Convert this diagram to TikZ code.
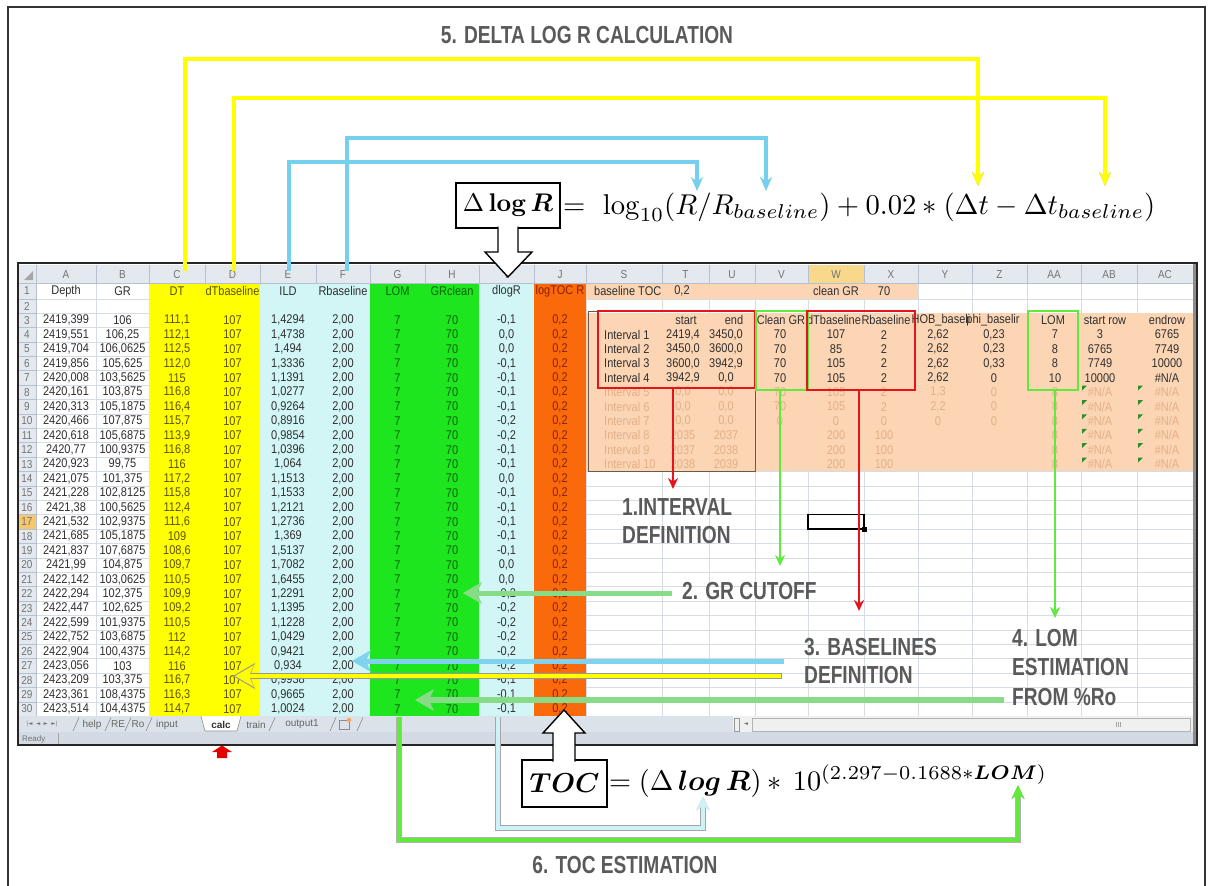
\documentclass[tikz,border=0pt]{standalone}
\usepackage[no-math]{fontspec}
\usepackage{amsmath,bm,graphicx}
\newfontfamily\xls{Liberation Sans}
\newfontfamily\djv{DejaVu Sans}
\usetikzlibrary{arrows.meta}
\definecolor{cyel}{HTML}{FFFF00}
\definecolor{cblu}{HTML}{D2F6F6}
\definecolor{cgrn}{HTML}{1EE61E}
\definecolor{corg}{HTML}{FA6A0A}
\definecolor{cpch}{HTML}{FCD5B4}
\definecolor{cgrid}{HTML}{D6DCE5}
\definecolor{chdr}{HTML}{E4E9EF}
\definecolor{chdrl}{HTML}{B6C0CE}
\definecolor{txt}{HTML}{303030}
\definecolor{tyel}{HTML}{5E5200}
\definecolor{tgrn}{HTML}{0A620A}
\definecolor{torg}{HTML}{8A2000}
\definecolor{tfad}{HTML}{E2B088}
\definecolor{lblc}{HTML}{5A5A5A}
\definecolor{sky}{HTML}{74D0EE}
\definecolor{pale}{HTML}{CDF3F8}
\definecolor{lgrn}{HTML}{5FEA3C}
\definecolor{hgrn}{HTML}{88DC88}
\definecolor{hsky}{HTML}{7FD3EF}
\definecolor{rd}{HTML}{E5141B}
\definecolor{tabbg}{HTML}{DCE2EA}
\definecolor{stbg}{HTML}{D3DAE4}
\definecolor{whl}{HTML}{F8D98C}
\definecolor{rhl}{HTML}{F7C76E}
\definecolor{sbrd}{HTML}{6B5A4A}
\definecolor{errg}{HTML}{2E8B2E}

\newcommand{\cx}[1]{\scalebox{1}[1.15]{#1}}
\newcommand{\sx}[1]{\scalebox{0.87}[1.12]{#1}}
\def\tcol{txt}

\tikzset{
  cl/.style={font=\xls\fontsize{11}{11}\selectfont, inner sep=0pt, text=txt},
  hd/.style={font=\xls\fontsize{10}{10}\selectfont, inner sep=0pt, text=black!55},
  lbl/.style={font=\xls\bfseries\fontsize{22}{22}\selectfont, inner sep=0pt, text=lblc},
  yconn/.style={draw=cyel, line width=3.2pt, preaction={draw=black!35, line width=4.6pt}},
  bconn/.style={draw=sky, line width=3.6pt},
  stp/.style={line width=5pt},
  vred/.style={draw=rd, line width=2.4pt, -{Stealth[length=11pt,width=10pt]}},
  vgrn/.style={draw=lgrn, line width=2.4pt, -{Stealth[length=11pt,width=10pt]}},
  rbox/.style={draw=rd, line width=2.6pt, inner sep=0pt, outer sep=0pt},
  gbox/.style={draw=lgrn, line width=2.6pt, inner sep=0pt, outer sep=0pt},
  fbox/.style={draw=black, line width=1.3pt, fill=white, inner sep=0pt, outer sep=0pt},
  hollow/.style={draw=black, line width=1.4pt, fill=white, line join=miter},
}
% left-pointing head at a named coordinate
\newcommand{\lhead}[2]{\fill[#1] (#2) -- ++(19,-11) -- ++(-5,11) -- ++(5,11) -- cycle;}

\newcommand{\datarow}[6]{%
  \pgfmathsetmacro{\yc}{320.2+(#1-3)*14.4}%
  \node[hd] (rn#1) at (27,\yc) {\cx{#1}};
  \node[cl] (a#1) at (66,\yc) {\cx{#2}};
  \node[cl] (b#1) at (122.5,\yc) {\cx{#3}};
  \node[cl,text=tyel] (c#1) at (177,\yc) {\cx{#4}};
  \node[cl,text=tyel] (d#1) at (232.5,\yc) {\cx{107}};
  \node[cl] (e#1) at (288,\yc) {\cx{#5}};
  \node[cl] (f#1) at (343,\yc) {\cx{2,00}};
  \node[cl,text=tgrn] (g#1) at (397.5,\yc) {\cx{7}};
  \node[cl,text=tgrn] (h#1) at (452,\yc) {\cx{70}};
  \node[cl] (i#1) at (506.5,\yc) {\cx{#6}};
  \node[cl,text=torg] (j#1) at (560,\yc) {\cx{0,2}};
}
\newcommand{\trA}[7]{%
  \pgfmathsetmacro{\yc}{320.2+(#1-3)*14.4}%
  \node[cl,text=\tcol,anchor=west] (s#1) at (604,\yc) {\cx{#2}};
  \node[cl,text=\tcol] (t#1) at (683,\yc) {\cx{#3}};
  \node[cl,text=\tcol] (u#1) at (726,\yc) {\cx{#4}};
  \node[cl,text=\tcol] (v#1) at (780,\yc) {\cx{#5}};
  \node[cl,text=\tcol] (w#1) at (836,\yc) {\cx{#6}};
  \node[cl,text=\tcol] (x#1) at (884,\yc) {\cx{#7}};
}
\newcommand{\trB}[6]{%
  \pgfmathsetmacro{\yc}{320.2+(#1-3)*14.4}%
  \node[cl,text=\tcol] (y#1) at (938,\yc) {\cx{#2}};
  \node[cl,text=\tcol] (z#1) at (994,\yc) {\cx{#3}};
  \node[cl,text=\tcol] (aa#1) at (1055,\yc) {\cx{#4}};
  \node[cl,text=\tcol] (ab#1) at (1100,\yc) {\cx{#5}};
  \node[cl,text=\tcol] (ac#1) at (1167,\yc) {\cx{#6}};
}

\begin{document}
\begin{tikzpicture}[x=1pt,y=-1pt]
\useasboundingbox (0,0) rectangle (1208,886);
\fill[white] (0,0) rectangle (1208,886);
\draw[black!80, line width=1.8pt] (8,892) -- (8,7) -- (1205,7) -- (1205,892);

% ---------- spreadsheet ----------
\foreach \k in {0,...,28} \draw[cgrid, line width=0.6pt] (36,{313+\k*14.4}) -- (1193,{313+\k*14.4});
\draw[cgrid, line width=0.6pt] (36,299) -- (1193,299);
\foreach \x in {96,149,205,260,316,370,425,479,534,586,662,709,755,808,864,918,972,1027,1081,1137}
  \draw[cgrid, line width=0.6pt] (\x,283) -- (\x,716.2);
\fill[cyel] (149,283) rectangle (260,716.2);
\fill[cblu] (260,283) rectangle (370,716.2);
\fill[cgrn] (370,283) rectangle (479,716.2);
\fill[cblu] (479,283) rectangle (534,716.2);
\fill[corg] (534,283) rectangle (586,716.2);
\fill[cpch] (586,283) rectangle (918,299);
\fill[cpch] (586,313) rectangle (1193,471.4);
\fill[chdr] (18,265) rectangle (1193,283);
\fill[chdr] (18,283) rectangle (36,716.2);
\fill[whl] (808,265) rectangle (864,283);
\fill[rhl] (18,514.6) rectangle (36,529);
\foreach \x in {36,96,149,205,260,316,370,425,479,534,586,662,709,755,808,864,918,972,1027,1081,1137}
  \draw[chdrl, line width=0.6pt] (\x,265) -- (\x,283);
\draw[chdrl, line width=0.6pt] (18,283) -- (1193,283);
\draw[chdrl, line width=0.6pt] (18,299) -- (36,299);
\foreach \k in {0,...,28} \draw[chdrl, line width=0.6pt] (18,{313+\k*14.4}) -- (36,{313+\k*14.4});
\draw[chdrl, line width=0.6pt] (36,265) -- (36,716.2);
\fill[black!35] (33,280) -- (33,271) -- (24,280) -- cycle;
\foreach \n/\x in {A/66,B/122.5,C/177,D/232.5,E/288,F/343,G/397.5,H/452,I/506.5,J/560,S/624,T/685.5,U/732,V/781.5,W/836,X/891,Y/945,Z/999.5,AA/1054,AB/1109,AC/1165}
  \node[hd] (col\n) at (\x,274.5) {\cx{\n}};
\node[hd] (rn1) at (27,291) {\cx{1}};
\node[hd] (rn2) at (27,306) {\cx{2}};

\node[cl] (a1) at (66,291) {\cx{Depth}};
\node[cl] (b1) at (122.5,291) {\cx{GR}};
\node[cl,text=tyel] (c1) at (177,291) {\cx{DT}};
\node[cl,text=tyel] (d1) at (232.5,291) {\cx{dTbaseline}};
\node[cl] (e1) at (288,291) {\cx{ILD}};
\node[cl] (f1) at (343,291) {\cx{Rbaseline}};
\node[cl,text=tgrn] (g1) at (397.5,291) {\cx{LOM}};
\node[cl,text=tgrn] (h1) at (452,291) {\cx{GRclean}};
\node[cl] (i1) at (506.5,291) {\cx{dlogR}};
\node[cl,text=torg] (j1) at (560,291) {\cx{logTOC R}};
\node[cl,anchor=west] (s1) at (594,291) {\cx{baseline TOC}};
\node[cl] (t1) at (682,291) {\cx{0,2}};
\node[cl] (w1) at (836,291) {\cx{clean GR}};
\node[cl] (x1) at (884,291) {\cx{70}};

\datarow{3}{2419,399}{106}{111,1}{1,4294}{-0,1}
\datarow{4}{2419,551}{106,25}{112,1}{1,4738}{0,0}
\datarow{5}{2419,704}{106,0625}{112,5}{1,494}{0,0}
\datarow{6}{2419,856}{105,625}{112,0}{1,3336}{-0,1}
\datarow{7}{2420,008}{103,5625}{115}{1,1391}{-0,1}
\datarow{8}{2420,161}{103,875}{116,8}{1,0277}{-0,1}
\datarow{9}{2420,313}{105,1875}{116,4}{0,9264}{-0,1}
\datarow{10}{2420,466}{107,875}{115,7}{0,8916}{-0,2}
\datarow{11}{2420,618}{105,6875}{113,9}{0,9854}{-0,2}
\datarow{12}{2420,77}{100,9375}{116,8}{1,0396}{-0,1}
\datarow{13}{2420,923}{99,75}{116}{1,064}{-0,1}
\datarow{14}{2421,075}{101,375}{117,2}{1,1513}{0,0}
\datarow{15}{2421,228}{102,8125}{115,8}{1,1533}{-0,1}
\datarow{16}{2421,38}{100,5625}{112,4}{1,2121}{-0,1}
\datarow{17}{2421,532}{102,9375}{111,6}{1,2736}{-0,1}
\datarow{18}{2421,685}{105,1875}{109}{1,369}{-0,1}
\datarow{19}{2421,837}{107,6875}{108,6}{1,5137}{-0,1}
\datarow{20}{2421,99}{104,875}{109,7}{1,7082}{0,0}
\datarow{21}{2422,142}{103,0625}{110,5}{1,6455}{0,0}
\datarow{22}{2422,294}{102,375}{109,9}{1,2291}{-0,2}
\datarow{23}{2422,447}{102,625}{109,2}{1,1395}{-0,2}
\datarow{24}{2422,599}{101,9375}{110,5}{1,1228}{-0,2}
\datarow{25}{2422,752}{103,6875}{112}{1,0429}{-0,2}
\datarow{26}{2422,904}{100,4375}{114,2}{0,9421}{-0,2}
\datarow{27}{2423,056}{103}{116}{0,934}{-0,2}
\datarow{28}{2423,209}{103,375}{116,7}{0,9938}{-0,1}
\datarow{29}{2423,361}{108,4375}{116,3}{0,9665}{-0,1}
\datarow{30}{2423,514}{104,4375}{114,7}{1,0024}{-0,1}

\node[cl] (t3) at (686,320.2) {\cx{start}};
\node[cl] (u3) at (734,320.2) {\cx{end}};
\node[cl] (v3) at (781,320.2) {\cx{Clean GR}};
\node[cl] (w3) at (834,320.2) {\cx{dTbaseline}};
\node[cl] (x3) at (886,320.2) {\cx{Rbaseline}};
\node[cl] (y3) at (941,320.2) {\cx{HOB\_baseli}};
\node[cl] (z3) at (993,320.2) {\cx{phi\_baselir}};
\node[cl] (aa3) at (1053,320.2) {\cx{LOM}};
\node[cl] (ab3) at (1105,320.2) {\cx{start row}};
\node[cl] (ac3) at (1167,320.2) {\cx{endrow}};
\trA{4}{Interval 1}{2419,4}{3450,0}{70}{107}{2}
\trB{4}{2,62}{0,23}{7}{3}{6765}
\trA{5}{Interval 2}{3450,0}{3600,0}{70}{85}{2}
\trB{5}{2,62}{0,23}{8}{6765}{7749}
\trA{6}{Interval 3}{3600,0}{3942,9}{70}{105}{2}
\trB{6}{2,62}{0,33}{8}{7749}{10000}
\trA{7}{Interval 4}{3942,9}{0,0}{70}{105}{2}
\trB{7}{2,62}{0}{10}{10000}{\#N/A}
\def\tcol{tfad}
\trA{8}{Interval 5}{0,0}{0,0}{70}{105}{2}
\trB{8}{1,3}{0}{8}{\#N/A}{\#N/A}
\trA{9}{Interval 6}{0,0}{0,0}{70}{105}{2}
\trB{9}{2,2}{0}{8}{\#N/A}{\#N/A}
\trA{10}{Interval 7}{0,0}{0,0}{0}{0}{0}
\trB{10}{0}{0}{8}{\#N/A}{\#N/A}
\trA{11}{Interval 8}{2035}{2037}{}{200}{100}
\trB{11}{}{}{8}{\#N/A}{\#N/A}
\trA{12}{Interval 9}{2037}{2038}{}{200}{100}
\trB{12}{}{}{8}{\#N/A}{\#N/A}
\trA{13}{Interval 10}{2038}{2039}{}{200}{100}
\trB{13}{}{}{8}{\#N/A}{\#N/A}
\def\tcol{txt}
\foreach \r in {8,...,13}{
  \pgfmathsetmacro{\yt}{313.6+(\r-3)*14.4}
  \fill[errg] (1082,\yt) -- ++(5,0) -- ++(-5,5) -- cycle;
  \fill[errg] (1138,\yt) -- ++(5,0) -- ++(-5,5) -- cycle;
}
\draw[sbrd, line width=1pt] (588,311) rectangle (755,471.4);

\draw[black, line width=1.6pt] (808,514.6) rectangle (864,529);
\fill[black] (862,527) rectangle (866.5,531.5);

% tab bar, scroll bar, status bar
\fill[tabbg] (18,716.2) rectangle (733,732);
\fill[black!6] (733,716.2) rectangle (1193,732);
\fill[white] (201,716.2) -- (241,716.2) -- (237,731) -- (205,731) -- cycle;
\foreach \x in {76,108,128,149,272,333,360}
  \draw[black!45, line width=0.6pt] ({\x-3},731) -- ({\x+3},717.5);
\draw[black!45, line width=0.6pt] (201,716.2) -- (205,731) -- (237,731) -- (241,716.2);
\node[hd, font=\djv\fontsize{5.5}{6}\selectfont] (nav) at (42,724.5) {|◄\ \ ◄\ \ ►\ \ ►|};
\foreach \t/\x in {help/92,RE/118,Ro/138,input/167,train/256,output1/302}
  \node[hd, text=black!60] (tab\t) at (\x,724.5) {\t};
\node[hd, text=black!80, font=\xls\bfseries\fontsize{10}{10}\selectfont] (tabcalc) at (221,724.5) {calc};
\draw[black!45, line width=0.6pt] (339,720) rectangle (349,729);
\fill[orange!70] (349,720) circle (2.2);
\draw[black!40, line width=0.6pt] (734,718) rectangle (739.5,731);
\node[hd, font=\djv\fontsize{5.5}{6}\selectfont] (sbl) at (746,724.5) {◄};
\draw[black!30, line width=0.6pt] (752,718) rectangle (1190,731);
\foreach \x in {1116,1118,1120} \draw[black!35, line width=0.5pt] (\x,722) -- (\x,727);
\fill[stbg] (18,732) rectangle (1193,745);
\node[hd, font=\xls\fontsize{8}{8}\selectfont, anchor=west] (ready) at (22,739) {Ready};
\draw[black!35, line width=0.6pt] (58,733) -- (58,744);
\fill[black!45] (1193,263) rectangle (1197,745);
\draw[black!85, line width=2pt] (18,263) rectangle (1197,745);
\fill[red!90!black] (222,745.5) -- (232,752) -- (227,752) -- (227,758) -- (217,758) -- (217,752) -- (212,752) -- cycle;

% ---------- step boxes and arrows ----------
\node[rbox, minimum width=157pt, minimum height=77pt] (ibox) at (676.5,349.5) {};
\node[gbox, minimum width=52pt, minimum height=79pt] (cgbox) at (782,350.5) {};
\node[rbox, minimum width=108pt, minimum height=79pt] (bbox) at (861,350.5) {};
\node[gbox, minimum width=50pt, minimum height=79pt] (lbox) at (1053,350.5) {};
\coordinate (iE) at (673,489);
\coordinate (cgE) at (780,566);
\coordinate (bE) at (859,611);
\coordinate (lE) at (1055,618);
\draw[vred] (ibox.south -| iE) -- (iE);
\draw[vgrn] (cgbox.south -| cgE) -- (cgE);
\draw[vred] (bbox.south -| bE) -- (bE);
\draw[vgrn] (lbox.south -| lE) -- (lE);

\node[lbl, anchor=west] (l1a) at (622,507) {\sx{1.INTERVAL}};
\node[lbl, anchor=west] (l1b) at (622,535) {\sx{DEFINITION}};
\node[lbl, anchor=west] (l2) at (682,591) {\sx{2. GR CUTOFF}};
\node[lbl, anchor=west] (l3a) at (804,647) {\sx{3. BASELINES}};
\node[lbl, anchor=west] (l3b) at (804,675) {\sx{DEFINITION}};
\node[lbl, anchor=west] (l4a) at (1012,638) {\sx{4. LOM}};
\node[lbl, anchor=west] (l4b) at (1012,667) {\sx{ESTIMATION}};
\node[lbl, anchor=west] (l4c) at (1012,697) {\sx{FROM \%Ro}};
\node[lbl] (t5) at (587,35) {\sx{5. DELTA LOG R CALCULATION}};
\node[lbl] (t6) at (625,865) {\sx{6. TOC ESTIMATION}};

\coordinate (grS) at (672,593);   \coordinate (grT) at (463,593);
\coordinate (rbS) at (784,661);   \coordinate (rbT) at (352,661);
\coordinate (dbS) at (782,676);   \coordinate (dbT) at (235,676);
\coordinate (loS) at (1004,700);  \coordinate (loT) at (415,700);
\draw[stp, draw=hgrn] (grS) -- ([xshift=14pt]grT);
\lhead{hgrn}{grT}
\draw[stp, draw=hsky] (rbS) -- ([xshift=14pt]rbT);
\lhead{hsky}{rbT}
\draw[line width=6.4pt, draw=black!40] (dbS) -- ([xshift=14pt]dbT);
\fill[black!40] ([xshift=-2pt]dbT) -- ++(22,-13) -- ++(-5,13) -- ++(5,13) -- cycle;
\draw[line width=4pt, draw=cyel] ([xshift=-0.8pt]dbS) -- ([xshift=14pt]dbT);
\lhead{cyel}{dbT}
\draw[stp, draw=hgrn, line width=5.5pt] (loS) -- ([xshift=14pt]loT);
\lhead{hgrn}{loT}

% ---------- top formula and connectors ----------
\coordinate (dtS) at (185,271);  \coordinate (dtE) at (978,186);
\coordinate (dbaS) at (234,271); \coordinate (dbaE) at (1105,186);
\coordinate (rS) at (289,271);   \coordinate (rE) at (697,191);
\coordinate (rbaS) at (347,271); \coordinate (rbaE) at (766,191);
\draw[yconn, -{Stealth[length=14pt,width=12pt]}] (dtS) -- ++(0,-212) -| (dtE);
\draw[yconn, -{Stealth[length=14pt,width=12pt]}] (dbaS) -- ++(0,-173) -| (dbaE);
\draw[bconn, -{Stealth[length=14pt,width=12pt]}] (rS) -- ++(0,-109) -| (rE);
\draw[bconn, -{Stealth[length=14pt,width=12pt]}] (rbaS) -- ++(0,-133) -| (rbaE);

\node[fbox, minimum width=104pt, minimum height=45pt] (dlrbox) at (508,205.5)
  {\resizebox{90pt}{!}{$\Delta\,\mathbf{log}\,\bm{R}$}};
\node[anchor=west, inner sep=0pt] (dlreq) at (563,207)
  {\resizebox{592pt}{!}{$=\ \log_{10}(R/R_{baseline})+0.02*(\Delta t-\Delta t_{baseline})$}};
\draw[hollow] (dlrbox.south) ++(-10,-1.5) -- ++(0,25.5) -- ++(-13,0) -- ++(23,25)
  -- ++(24,-25) -- ++(-14,0) -- ++(0,-25.5);

% ---------- bottom formula and connectors ----------
\coordinate (lomS) at (399,717);  \coordinate (lomE) at (1018,785);
\coordinate (dlS) at (498,717);   \coordinate (dlE) at (703,797);
\draw[draw=lgrn, line width=4pt, preaction={draw=black!30, line width=5.4pt},
  -{Stealth[length=14pt,width=13pt]}] (lomS) -- ++(0,123) -| (lomE);
\draw[draw=pale, line width=4.4pt, preaction={draw=black!35, line width=6pt},
  -{Stealth[length=13pt,width=13pt]}] (dlS) -- ++(0,111) -| (dlE);

\node[fbox, minimum width=85pt, minimum height=47pt] (tocbox) at (564.5,783.5)
  {\resizebox{70pt}{!}{$\bm{TOC}$}};
\node[anchor=west, inner sep=0pt] (toceq) at (609,781)
  {\resizebox{438pt}{!}{$=(\Delta\,\bm{log}\,\bm{R})*\,10^{(2.297-0.1688*\bm{LOM})}$}};
\draw[hollow] (tocbox.north) ++(-11.5,1.5) -- ++(0,-28.5) -- ++(-10,0) -- ++(21,-23)
  -- ++(21,23) -- ++(-10,0) -- ++(0,28.5);
\end{tikzpicture}
\end{document}
